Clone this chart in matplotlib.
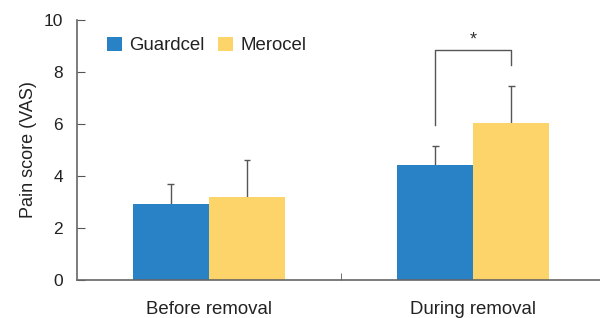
import matplotlib.pyplot as plt
import numpy as np

plt.rcParams['font.family'] = ['Liberation Sans', 'DejaVu Sans']

groups = ['Before removal', 'During removal']
series = ['Guardcel', 'Merocel']
guardcel = [2.92, 4.42]
guardcel_sd = [0.77, 0.73]
merocel = [3.19, 6.04]
merocel_sd = [1.43, 1.42]
colors = ['#2a82c6', '#fcd46a']

fig = plt.figure(figsize=(6, 3.18), dpi=100)
ax = fig.add_axes([0.128, 0.1195, 0.872, 0.8176])

x = np.arange(len(groups))
w = 0.288
cap = 0.013


def upper_err(xs, vals, sds):
    # only the upper half of the error bar, with a cap on top
    tops = np.array(vals) + np.array(sds)
    ax.vlines(xs, vals, tops, color='#555555', lw=1, zorder=1)
    ax.hlines(tops, xs - cap, xs + cap, color='#555555', lw=1, zorder=1)


ax.bar(x - w / 2, guardcel, w, color=colors[0], label=series[0], zorder=2)
ax.bar(x + w / 2, merocel, w, color=colors[1], label=series[1], zorder=2)
upper_err(x - w / 2, guardcel, guardcel_sd)
upper_err(x + w / 2, merocel, merocel_sd)

# significance bracket
y_top = 8.85
x1, x2 = x[1] - w / 2, x[1] + w / 2
ax.plot([x1, x1, x2, x2], [5.96, y_top, y_top, 8.27], color='#555555', lw=1)
ax.text((x1 + x2) / 2, y_top + 0.05, '*', ha='center', va='bottom', fontsize=13, color='#333333')

ax.set_xlim(-0.5, 1.48)
ax.set_ylim(0, 10)
ax.set_yticks(np.arange(0, 11, 2))
ax.set_xticks(x)
ax.set_xticklabels(groups)
ax.set_xticks([0.5], minor=True)
ax.tick_params(axis='x', which='major', length=0, pad=15, labelsize=13.4, colors='#222222')
ax.tick_params(axis='x', which='minor', direction='in', length=5, color='#555555')
ax.tick_params(axis='y', direction='in', length=6, pad=10, labelsize=12.5, color='#555555', labelcolor='#222222')
ax.set_ylabel('Pain score (VAS)', fontsize=13, color='#222222', labelpad=5)

for s in ['top', 'right']:
    ax.spines[s].set_visible(False)
for s in ['left', 'bottom']:
    ax.spines[s].set_color('#666666')
    ax.spines[s].set_linewidth(1.2)
    ax.spines[s].set_zorder(3)

ax.legend(loc='upper left', bbox_to_anchor=(0.025, 1.0), ncol=2, frameon=False,
          handlelength=0.8, handleheight=0.8, handletextpad=0.4, columnspacing=0.75,
          fontsize=13.4, labelcolor='#222222')

fig.savefig('out.png', dpi=100)
